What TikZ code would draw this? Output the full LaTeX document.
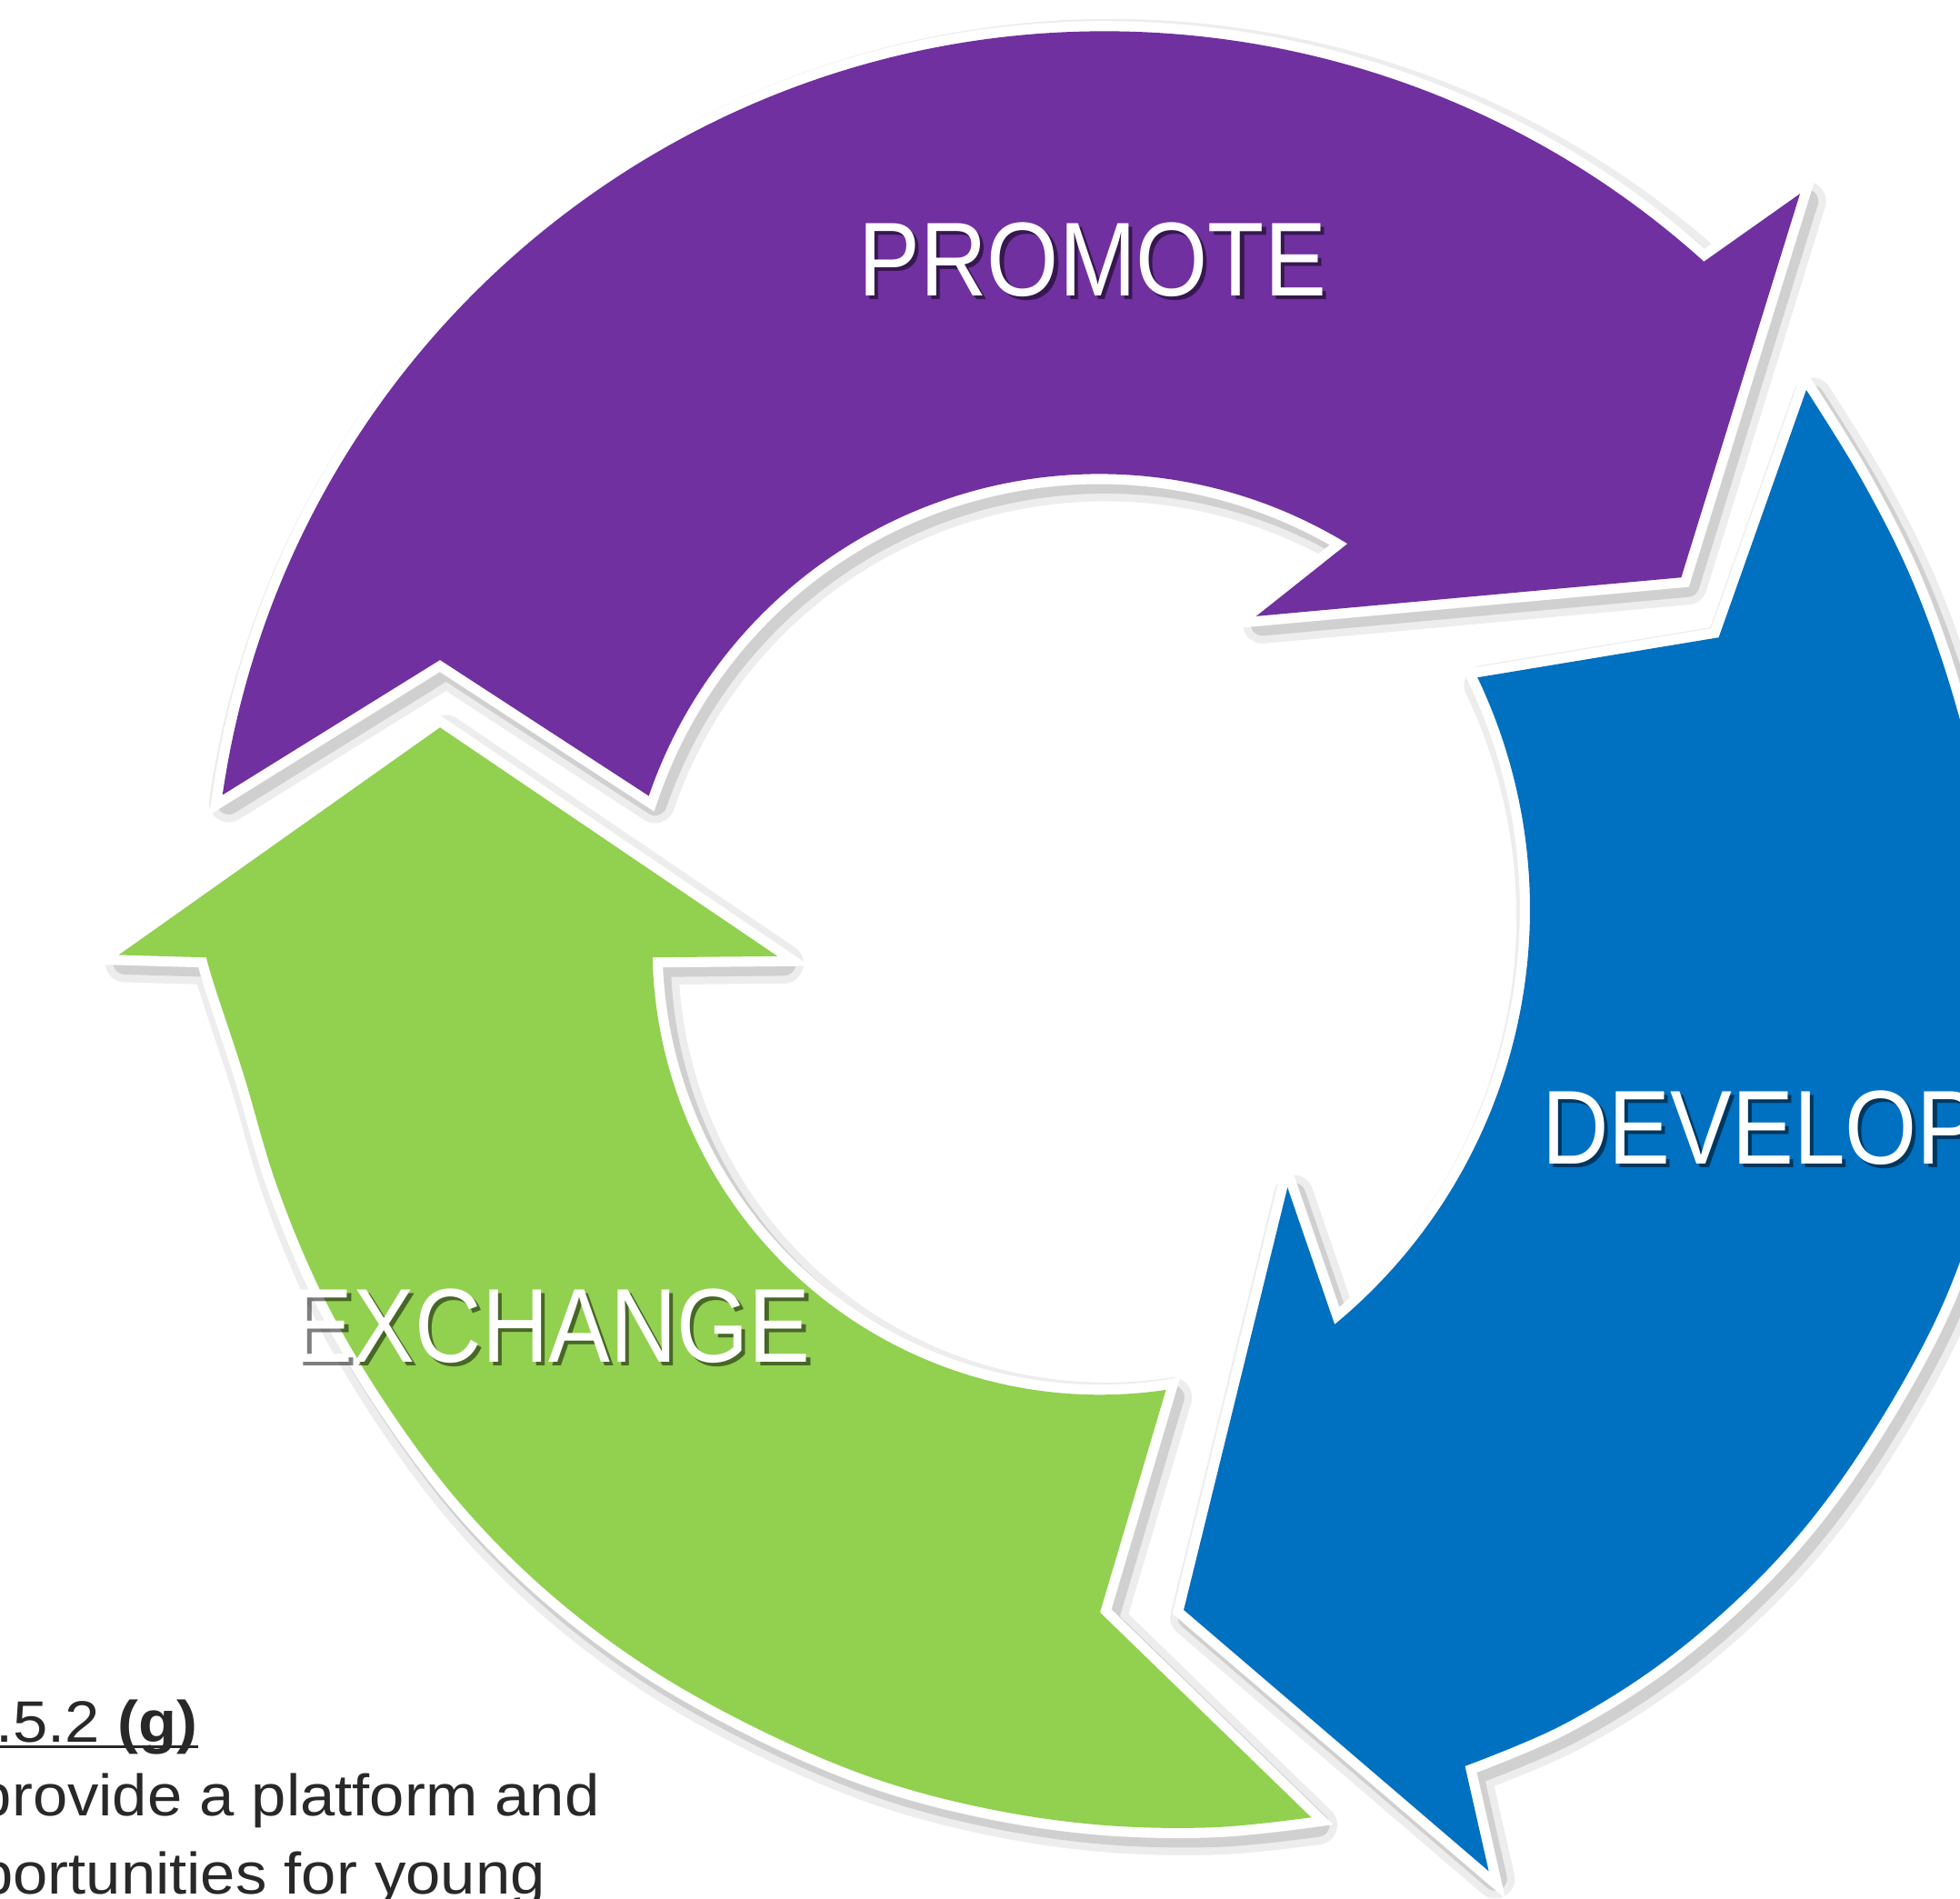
\documentclass[tikz,border=0pt]{standalone}
\usepackage{fontspec}
\setmainfont{Liberation Sans}
\newfontfamily\narrowsans[FakeStretch=0.88]{Liberation Sans}
\newfontfamily\notesans[FakeStretch=1.07]{Liberation Sans}
\definecolor{cpurple}{RGB}{112,48,160}
\definecolor{cblue}{RGB}{0,112,192}
\definecolor{cgreen}{RGB}{146,208,80}
\definecolor{ctext}{RGB}{40,40,40}
\tikzset{
  shadowA/.style={draw=black, fill=black, opacity=0.07, line width=9pt, line join=round},
  shadowB/.style={draw=black, fill=black, opacity=0.12, line width=5.5pt, line join=round},
  rim/.style={draw=white, line width=4.6pt, line join=miter, miter limit=4},
  lbl/.style={text=white, inner sep=0pt, anchor=base, font=\narrowsans\fontsize{23.9}{28}\selectfont},
  lblshadow/.style={lbl, text=black, opacity=0.5},
  note/.style={text=ctext, inner sep=0pt, anchor=base west, font=\notesans\fontsize{13.3}{16}\selectfont}
}
\def\purplepath{(178,636) arc[start angle=188.3, end angle=312.1, radius=714] -- (1440,155) -- (1345,462) -- (1005,493) -- (1078,435) arc[start angle=301.4, end angle=198.9, radius=381] -- (352,528) -- cycle}
\def\greenpath{(352,582) -- (622,765) -- (522,766) arc[start angle=178.7, end angle=81.5, radius=358] -- (880,1290) -- (1049,1454) -- plot[smooth, tension=0.6] coordinates {(1049,1454) (970,1462) (880,1460) (790,1447) (700,1423) (610,1385) (520,1335) (440,1275) (370,1205) (310,1125) (260,1040) (222,950) (195,860) (172,790) (165,766)} -- (95,764) -- cycle}
\def\bluepath{(1445,312) -- (1375,510) -- (1182,542) arc[start angle=334.5, end angle=410.4, radius=431] -- (1030,950) -- (947,1288) -- (1191,1497) -- (1172,1413) -- plot[smooth, tension=0.6] coordinates {(1172,1413) (1250,1380) (1330,1330) (1405,1265) (1465,1195) (1520,1110) (1560,1030) (1585,950) (1597,850) (1597,750) (1585,650) (1562,555) (1530,465) (1490,385) (1445,312)} -- cycle}
\begin{document}
\begin{tikzpicture}[x=0.01cm, y=-0.01cm]
\useasboundingbox (0,0) rectangle (1568,1519);
\clip (0,0) rectangle (1568,1519);
% soft shadows
\begin{scope}[shift={(5,6)}]
  \path[shadowA] \purplepath;
  \path[shadowA] \greenpath;
  \path[shadowA] \bluepath;
  \path[shadowB] \purplepath;
  \path[shadowB] \greenpath;
  \path[shadowB] \bluepath;
\end{scope}
% white rims and fills
\path[rim, fill=cpurple] \purplepath;
\fill[cpurple] \purplepath;
\path[rim, fill=cgreen] \greenpath;
\fill[cgreen] \greenpath;
\path[rim, fill=cblue] \bluepath;
\fill[cblue] \bluepath;
% labels with text shadow
\node[lblshadow] (promoteS) at (877,240) {PROMOTE};
\node[lbl] (promote) at (874,237) {PROMOTE};
\node[lblshadow, anchor=base west] (developS) at (1236,934) {DEVELOP};
\node[lbl, anchor=base west] (develop) at (1233,931) {DEVELOP};
\node[lblshadow] (exchangeS) at (444,1093) {EXCHANGE};
\node[lbl] (exchange) at (441,1090) {EXCHANGE};
% note text
\node[note] (ref) at (-4,1394) {.5.2 \textbf{(g)}};
\draw[ctext, line width=0.6pt] ([yshift=-0.035cm]ref.base west) -- ([yshift=-0.035cm]ref.base east);
\node[note] (line1) at (-19,1453) {provide a platform and};
\node[note] (line2) at (-18,1515) {portunities for young};
\end{tikzpicture}
\end{document}
